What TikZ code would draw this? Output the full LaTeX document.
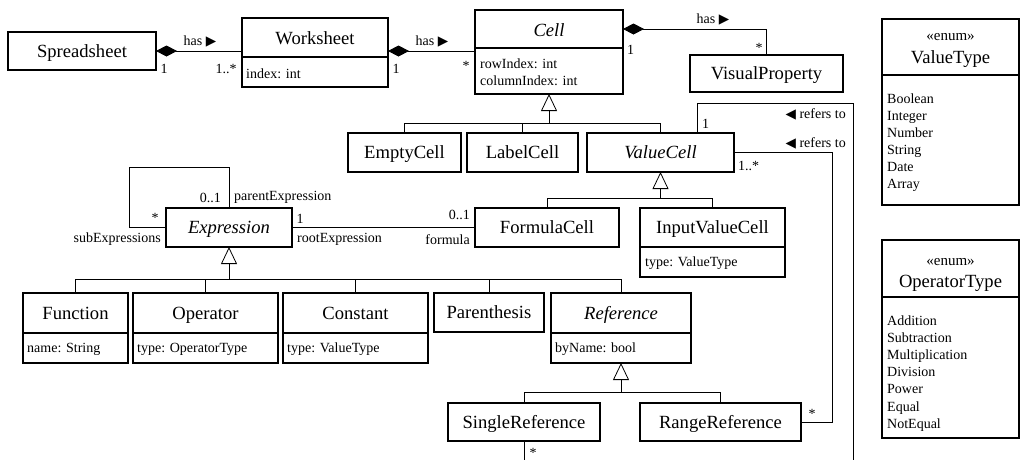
\documentclass[tikz,border=0pt]{standalone}
\usepackage{fontspec}
\setmainfont{Liberation Serif}
\newfontfamily\symfont{DejaVu Sans}
\usetikzlibrary{arrows.meta}
\newcommand{\rtri}{{\symfont\fontsize{13.5}{13.5}\selectfont ▶}}
\newcommand{\ltri}{{\symfont\fontsize{13.5}{13.5}\selectfont ◀}}
\begin{document}
\begin{tikzpicture}[x=1pt,y=-1pt,
  box/.style={draw, line width=1.1pt, inner sep=0pt, outer sep=0pt},
  tbox/.style={box, font=\fontsize{18.6}{20}\selectfont, text height=12.3pt, text depth=0pt},
  itbox/.style={tbox, font=\fontsize{18.6}{20}\selectfont\itshape},
  ttl/.style={font=\fontsize{18.6}{20}\selectfont, inner sep=0pt, anchor=base},
  attr/.style={font=\fontsize{14}{16}\selectfont, inner sep=0pt, anchor=base west},
  lbl/.style={font=\fontsize{14}{16}\selectfont, inner sep=0pt, anchor=base},
  stereo/.style={font=\fontsize{15}{16}\selectfont, inner sep=0pt, anchor=base},
  divl/.style={line width=1.1pt},
  conn/.style={line width=0.8pt},
  comp/.style={conn, {Diamond[length=21pt,width=11pt]}-},
  gen/.style={conn, -{Triangle[open,length=17pt,width=16pt]}},
]
\useasboundingbox (0,0) rectangle (1020,459);
\fill[white] (0,0) rectangle (1020,459);
\clip (0,0) rectangle (1020,459);

% ---------- classes ----------
\node[tbox, minimum width=148pt, minimum height=38pt] (ss) at (82,51) {Spreadsheet};

\node[box, minimum width=146pt, minimum height=69pt] (ws) at (315,52.5) {};
\draw[divl] (ws.west |- 0,57) -- (ws.east |- 0,57);
\node[ttl] (wsT) at (315,44) {Worksheet};
\node[attr] (wsA) at (246,78) {index: int};

\node[box, minimum width=148pt, minimum height=84pt] (cell) at (549,52) {};
\draw[divl] (cell.west |- 0,48) -- (cell.east |- 0,48);
\node[ttl, font=\fontsize{18.6}{20}\selectfont\itshape] (cellT) at (549,36) {Cell};
\node[attr] (cellA1) at (480,68) {rowIndex: int};
\node[attr] (cellA2) at (480,85) {columnIndex: int};

\node[tbox, minimum width=153pt, minimum height=37pt] (vp) at (766.5,73.5) {VisualProperty};

\node[tbox, minimum width=113pt, minimum height=39pt] (empty) at (404.5,152.5) {EmptyCell};
\node[tbox, minimum width=111pt, minimum height=39pt] (label) at (522.5,152.5) {LabelCell};
\node[itbox, minimum width=147pt, minimum height=39pt] (valcell) at (660.5,152.5) {ValueCell};

\node[itbox, minimum width=126pt, minimum height=39pt] (expr) at (229,227.5) {Expression};
\node[tbox, minimum width=144pt, minimum height=39pt] (formula) at (547,227.5) {FormulaCell};

\node[box, minimum width=145pt, minimum height=69pt] (input) at (712.5,242.5) {};
\draw[divl] (input.west |- 0,247) -- (input.east |- 0,247);
\node[ttl] (inputT) at (712.5,233.5) {InputValueCell};
\node[attr] (inputA) at (645,266) {type: ValueType};

\node[box, minimum width=105pt, minimum height=70pt] (function) at (75.5,328) {};
\draw[divl] (function.west |- 0,333) -- (function.east |- 0,333);
\node[ttl] (functionT) at (75.5,319) {Function};
\node[attr] (functionA) at (27,352) {name: String};

\node[box, minimum width=145pt, minimum height=70pt] (operator) at (205.5,328) {};
\draw[divl] (operator.west |- 0,333) -- (operator.east |- 0,333);
\node[ttl] (operatorT) at (205.5,319) {Operator};
\node[attr] (operatorA) at (137,352) {type: OperatorType};

\node[box, minimum width=145pt, minimum height=70pt] (constant) at (355.5,328) {};
\draw[divl] (constant.west |- 0,333) -- (constant.east |- 0,333);
\node[ttl] (constantT) at (355.5,319) {Constant};
\node[attr] (constantA) at (287,352) {type: ValueType};

\node[tbox, minimum width=110pt, minimum height=39pt] (paren) at (489,312.5) {Parenthesis};

\node[box, minimum width=140pt, minimum height=70pt] (reference) at (621,328) {};
\draw[divl] (reference.west |- 0,333) -- (reference.east |- 0,333);
\node[ttl, font=\fontsize{18.6}{20}\selectfont\itshape] (referenceT) at (621,319) {Reference};
\node[attr] (referenceA) at (555,352) {byName: bool};

\node[tbox, minimum width=152pt, minimum height=38pt] (single) at (524,422) {SingleReference};
\node[tbox, minimum width=161pt, minimum height=38pt] (range) at (720.5,422) {RangeReference};

% ---------- enums ----------
\node[box, minimum width=137pt, minimum height=186pt] (vt) at (950.5,112) {};
\draw[divl] (vt.west |- 0,75) -- (vt.east |- 0,75);
\node[stereo] (vtS) at (950.5,40) {«enum»};
\node[ttl] (vtT) at (950.5,63) {ValueType};
\foreach \t [count=\i] in {Boolean,Integer,Number,String,Date,Array}
  \node[attr] (vt\i) at (887,{103+17*(\i-1)}) {\t};

\node[box, minimum width=137pt, minimum height=198pt] (ot) at (950.5,339) {};
\draw[divl] (ot.west |- 0,297) -- (ot.east |- 0,297);
\node[stereo] (otS) at (950.5,265) {«enum»};
\node[ttl] (otT) at (950.5,287) {OperatorType};
\foreach \t [count=\i] in {Addition,Subtraction,Multiplication,Division,Power,Equal,NotEqual}
  \node[attr] (ot\i) at (887,{325+17.2*(\i-1)}) {\t};

% ---------- compositions ----------
\draw[comp] (ss.east) -- (ss.east -| ws.west);
\node[lbl] (c1a) at (200,45) {has \rtri};
\node[lbl] (c1b) at (164,73) {1};
\node[lbl] (c1c) at (226,73) {1..*};

\draw[comp] (ws.east |- ss.east) -- (cell.west |- ss.east);
\node[lbl] (c2a) at (432,45) {has \rtri};
\node[lbl] (c2b) at (396,73) {1};
\node[lbl] (c2c) at (466,70) {*};

\draw[comp] (cell.east |- 0,29) -| (vp.north);
\node[lbl] (c3a) at (713,23) {has \rtri};
\node[lbl, anchor=base west] (c3b) at (627,54) {1};
\node[lbl] (c3c) at (759,52) {*};

% ---------- generalizations ----------
\draw[gen] (cell.south |- 0,123) -- (cell.south);
\draw[conn] (empty.north) |- (valcell.north |- 0,123) -- (valcell.north);
\draw[conn] (label.north) -- (label.north |- 0,123);

\draw[gen] (valcell.south |- 0,198) -- (valcell.south);
\draw[conn] (formula.north) |- (input.north |- 0,198) -- (input.north);

\draw[gen] (expr.south |- 0,279) -- (expr.south);
\draw[conn] (function.north) |- (reference.north |- 0,279) -- (reference.north);
\draw[conn] (operator.north) -- (operator.north |- 0,279);
\draw[conn] (constant.north) -- (constant.north |- 0,279);
\draw[conn] (paren.north) -- (paren.north |- 0,279);

\draw[gen] (reference.south |- 0,392) -- (reference.south);
\draw[conn] (single.north) |- (range.north |- 0,392) -- (range.north);

% ---------- associations ----------
\coordinate (loopc) at (129,167);
\draw[conn] (expr.north) |- (loopc) |- (expr.west);
\node[lbl, anchor=base east] (s1) at (221,202) {0..1};
\node[lbl, anchor=base west] (s2) at (234,200) {parentExpression};
\node[lbl] (s3) at (155,222) {*};
\node[lbl, anchor=base east] (s4) at (161,242) {subExpressions};

\draw[conn] (expr.east) -- (formula.west);
\node[lbl] (r1) at (300,223) {1};
\node[lbl, anchor=base west] (r2) at (297,242) {rootExpression};
\node[lbl, anchor=base east] (r3) at (470,219) {0..1};
\node[lbl, anchor=base east] (r4) at (470,244) {formula};

\coordinate (botL) at (0,480);
\coordinate (topR) at (853,103);
\coordinate (x697) at (697,0);
\draw[conn] (single.south) -- (single.south |- botL) -| (topR) -| (valcell.north -| x697);
\node[lbl, anchor=base west] (o1) at (702,128) {1};
\node[lbl, anchor=base east] (o2) at (846,118) {\ltri\ refers to};
\node[lbl] (o3) at (533,457) {*};

\coordinate (innerX) at (832,0);
\draw[conn] (range.east) -| (innerX |- valcell.east) -- (valcell.east);
\node[lbl, anchor=base west] (i1) at (738,170) {1..*};
\node[lbl, anchor=base east] (i2) at (846,147) {\ltri\ refers to};
\node[lbl] (i3) at (812,418) {*};
\end{tikzpicture}
\end{document}
